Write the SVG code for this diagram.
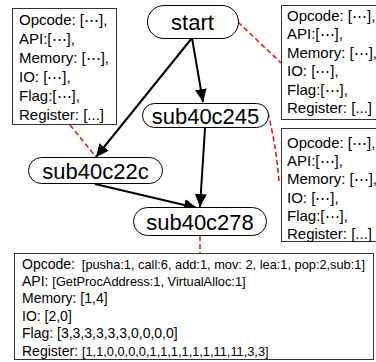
<svg xmlns="http://www.w3.org/2000/svg" width="376" height="362" viewBox="0 0 376 362">
<defs>
<style>
text{font-family:"Liberation Sans",Arial,sans-serif;fill:#000}
.node rect{fill:#fff;stroke:#000;stroke-width:1}
.node text{font-size:22px;text-anchor:middle}
.box rect{fill:#fff;stroke:#333;stroke-width:1}
.box text{font-size:15px}
.big text{font-size:14px}
.v{font-size:12.8px}
.edge{stroke:#000;stroke-width:2;fill:none;marker-end:url(#ah)}
.link{stroke:#f00;stroke-width:1.5;fill:none;stroke-dasharray:5,3}
</style>
<marker id="ah" markerUnits="userSpaceOnUse" markerWidth="14" markerHeight="12" refX="13" refY="6" orient="auto">
<path d="M0,0 L13,6 L0,12 z" fill="#000"/>
</marker>
</defs>
<g id="connectors">
<line class="edge" x1="192" y1="38" x2="203" y2="102"/>
<line class="edge" x1="192" y1="38" x2="96" y2="157"/>
<line class="edge" x1="205" y1="128" x2="200" y2="207"/>
<line class="edge" x1="95" y1="184" x2="197" y2="208"/>
<line class="link" x1="70" y1="125" x2="96" y2="157"/>
<line class="link" x1="238" y1="22" x2="281" y2="63"/>
<path class="link" d="M268,113 Q276,145 279,181"/>
<line class="link" x1="200" y1="236" x2="200" y2="253"/>
</g>
<g id="box-start" class="box">
<rect x="12.5" y="8.5" width="104" height="116"/>
<text x="19" y="25">Opcode: [⋯],</text>
<text x="19" y="44">API:[⋯],</text>
<text x="19" y="63">Memory: [⋯],</text>
<text x="19" y="82">IO: [⋯],</text>
<text x="19" y="101">Flag:[⋯],</text>
<text x="19" y="120">Register: [...]</text>
</g>
<g id="box-sub40c22c" class="box">
<rect x="281.5" y="5.5" width="96" height="114"/>
<text x="287" y="20.5">Opcode: [⋯],</text>
<text x="287" y="39">API:[⋯],</text>
<text x="287" y="57.5">Memory: [⋯],</text>
<text x="287" y="76">IO: [⋯],</text>
<text x="287" y="94.5">Flag:[⋯],</text>
<text x="287" y="113">Register: [...]</text>
</g>
<g id="box-sub40c245" class="box">
<rect x="281.5" y="128.5" width="96" height="113"/>
<text x="287" y="147.5">Opcode: [⋯],</text>
<text x="287" y="166">API:[⋯],</text>
<text x="287" y="184">Memory: [⋯],</text>
<text x="287" y="202.5">IO: [⋯],</text>
<text x="287" y="221">Flag:[⋯],</text>
<text x="287" y="239">Register: [...]</text>
</g>
<g id="box-sub40c278" class="box big">
<rect x="14.5" y="253.5" width="359" height="106"/>
<text x="22" y="269">Opcode: <tspan class="v" dx="3">[pusha:1, call:6, add:1, mov: 2, lea:1, pop:2,sub:1]</tspan></text>
<text x="22" y="286">API: <tspan class="v">[GetProcAddress:1, VirtualAlloc:1]</tspan></text>
<text x="22" y="303">Memory: [1,4]</text>
<text x="22" y="321">IO: [2,0]</text>
<text x="22" y="338">Flag: [3,3,3,3,3,3,0,0,0,0]</text>
<text x="22" y="356">Register: <tspan class="v">[1,1,0,0,0,0,1,1,1,1,1,1,11,11,3,3]</tspan></text>
</g>
<g id="start" class="node">
<rect x="147.5" y="5.5" width="91" height="33" rx="16.5"/>
<text x="192.5" y="30">start</text>
</g>
<g id="sub40c245" class="node">
<rect x="142.5" y="103.5" width="126" height="24" rx="12"/>
<text x="205.5" y="123.5">sub40c245</text>
</g>
<g id="sub40c22c" class="node">
<rect x="28.5" y="157.5" width="134" height="26" rx="13"/>
<text x="95.5" y="178.5">sub40c22c</text>
</g>
<g id="sub40c278" class="node">
<rect x="133.5" y="207.5" width="133" height="28" rx="14"/>
<text x="200" y="229.5">sub40c278</text>
</g>
</svg>
